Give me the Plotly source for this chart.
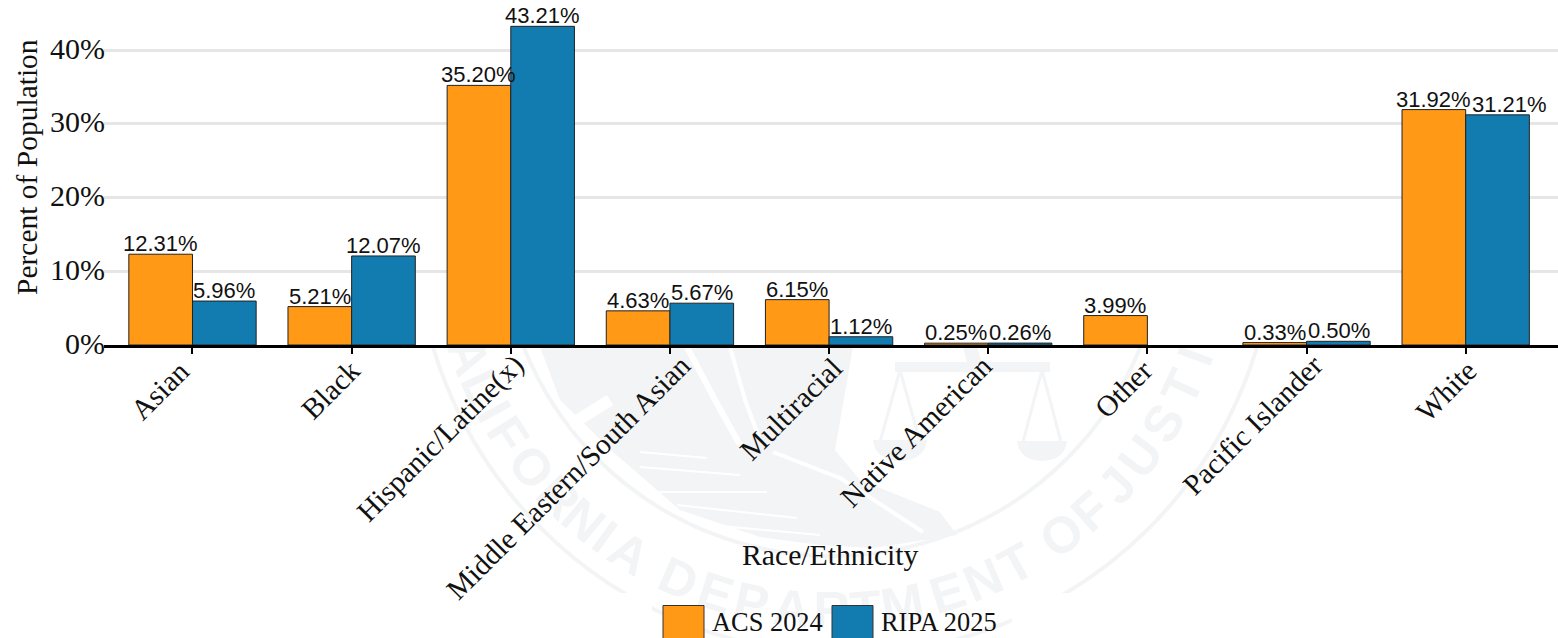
import base64
import plotly.graph_objects as go

categories = ["Asian", "Black", "Hispanic/Latine(x)", "Middle Eastern/South Asian", "Multiracial",
              "Native American", "Other", "Pacific Islander", "White"]
acs_2024 = [12.31, 5.21, 35.20, 4.63, 6.15, 0.25, 3.99, 0.33, 31.92]
ripa_2025 = [5.96, 12.07, 43.21, 5.67, 1.12, 0.26, None, 0.50, 31.21]
y_ticks = [0, 10, 20, 30, 40]
series_names = ["ACS 2024", "RIPA 2025"]
ORANGE, BLUE = "#ff9916", "#127bb0"
# label end offset from the tick (px) and top of label (page px), as in the picture
label_dx = [6, 17, 22, 30, 22, 13, 14, 25, 20]
label_top = [351, 351, 346, 346, 349, 346, 351, 346, 351]
# the reference moves the last value label sideways, clear of its neighbour
ripa_label_nudge = [0, 0, 0, 0, 0, 0, 0, 0, 12]
acs_label_nudge = [0, 0, 0, 0, 0, 0, 0, 0, 0]

W, H = 1558, 638
L, R, T, B = 104, 1558, 8, 345      # plot rectangle in page pixels
X_RANGE = [-0.556, 8.58]
SERIF = "Liberation Serif, Times New Roman, serif"
SANS = "Liberation Sans, Arial, sans-serif"
WM = "#f3f4f5"

def px(x): return (x - L) / (R - L)
def py(y): return (B - y) / (B - T)

# faint seal behind the axis area
cx, cy, r1, rt = 832, 224, 332, 385
def letter(ch, ang):
    return (f'<text transform="rotate({-ang} {cx} {cy})" x="{cx}" y="{cy + rt + 19}" text-anchor="middle" '
            f'font-family="Liberation Sans" font-weight="700" font-size="51" fill="{WM}">{ch}</text>')
word = [("C", -76), ("A", -70), ("L", -65), ("I", -61), ("F", -57), ("O", -51), ("R", -45), ("N", -40), ("I", -36),
        ("A", -31.6), ("D", -23.4), ("E", -17.5), ("P", -12), ("A", -6), ("R", 0), ("T", 5), ("M", 10.5), ("E", 17.4),
        ("N", 23), ("T", 28.5), ("O", 36.5), ("F", 42), ("J", 47.5), ("U", 53), ("S", 59), ("T", 65), ("I", 70), ("C", 75)]
svg = f'''<svg xmlns="http://www.w3.org/2000/svg" width="{W}" height="{H}" viewBox="0 0 {W} {H}">
<defs><clipPath id="c"><path d="M0 347H{W}V593H1012V{H}H652V593H0Z"/></clipPath></defs>
<g clip-path="url(#c)">
<circle cx="{cx}" cy="{cy}" r="{r1}" fill="none" stroke="{WM}" stroke-width="4"/>
<circle cx="845" cy="{cy}" r="430" fill="none" stroke="{WM}" stroke-width="4"/>
{"".join(letter(c, a) for c, a in word)}
<path d="M540 347 L560 400 L613 452 L680 510 L760 537 L820 545 L873 548 L957 535 L940 512 L860 480 L835 450 L853 347Z" fill="{WM}"/>
<g stroke="#fff" stroke-width="2" fill="none">
<path d="M640 452L707 458M640 467L740 475M657 492L767 492M677 505L797 518M710 525L820 535"/>
<path d="M773 452L840 478L923 532" stroke-width="4"/>
<path d="M687 347L715 400L740 445" stroke-width="6"/>
<path d="M730 347L745 400L760 440" stroke-width="4"/>
<path d="M610 400L570 425" stroke-width="12"/>
</g>
<path d="M895 367H1050" stroke="{WM}" stroke-width="10"/>
<path d="M970 347L975 365" stroke="{WM}" stroke-width="14"/>
<path d="M900 370L880 442M900 370L920 442M1042 370L1023 442M1042 370L1061 442" stroke="{WM}" stroke-width="3" fill="none"/>
<path d="M873 440H927Q925 460 900 461Q875 460 873 440Z M1017 441H1067Q1065 460 1042 461Q1019 460 1017 441Z" fill="{WM}"/>
</g></svg>'''
seal = "data:image/svg+xml;base64," + base64.b64encode(svg.encode()).decode()

fig = go.Figure()
for name, vals, col in zip(series_names, (acs_2024, ripa_2025), (ORANGE, BLUE)):
    fig.add_bar(name=name, x=categories, y=vals, cliponaxis=False,
                marker=dict(color=col, line=dict(color="#222", width=1)), showlegend=False)

ann = []
# data labels
for vals, shift, nudge in ((acs_2024, -32, acs_label_nudge), (ripa_2025, 32, ripa_label_nudge)):
    for c, v, n in zip(categories, vals, nudge):
        if v is not None:
            ann.append(dict(text=f"{v:.2f}%", x=c, y=v, xref="x", yref="y", xshift=shift + n, yshift=-4,
                            yanchor="bottom", xanchor="center", showarrow=False,
                            font=dict(family=SANS, size=22, color="#111")))
# category labels
for c, dx, top in zip(categories, label_dx, label_top):
    ann.append(dict(text=c, x=c, xref="x", y=py(top), yref="paper", xshift=dx, xanchor="right", yanchor="top",
                    textangle=-45, showarrow=False, font=dict(family=SERIF, size=29.3, color="#111")))
# axis titles
ann.append(dict(text="Race/Ethnicity", xref="paper", yref="paper", x=px(830), y=py(555), xanchor="center",
                yanchor="middle", showarrow=False, font=dict(family=SERIF, size=29.7, color="#111")))
ann.append(dict(text="Percent of Population", xref="paper", yref="paper", x=px(27), y=py(167), xanchor="center",
                yanchor="middle", textangle=-90, showarrow=False, font=dict(family=SERIF, size=29.5, color="#111")))
# legend
shapes = []
for name, x0, col in zip(series_names, (663, 832), (ORANGE, BLUE)):
    shapes.append(dict(type="rect", xref="paper", yref="paper", x0=px(x0), x1=px(x0 + 41), y0=py(640), y1=py(605.5),
                       fillcolor=col, line=dict(color="#333", width=1)))
    ann.append(dict(text=name, xref="paper", yref="paper", x=px(x0 + 47), y=py(622), xanchor="left", yanchor="middle",
                    showarrow=False, font=dict(family=SERIF, size=26.4, color="#111")))

fig.update_layout(
    width=W, height=H, autosize=False,
    margin=dict(l=L, r=W - R, t=T, b=H - B),
    barmode="group", bargap=0.2, bargroupgap=0, paper_bgcolor="white", plot_bgcolor="white",
    showlegend=False, shapes=shapes, annotations=ann,
    images=[dict(source=seal, xref="paper", yref="paper", x=px(0), y=py(0), sizex=W / (R - L),
                 sizey=H / (B - T), xanchor="left", yanchor="top", layer="below", sizing="stretch")],
    font=dict(family=SERIF, color="#111"),
    xaxis=dict(range=X_RANGE, showticklabels=False,
               ticks="outside", ticklen=6, tickwidth=2, tickcolor="black", showgrid=False,
               showline=True, linecolor="black", linewidth=3, zeroline=False),
    yaxis=dict(range=[0, (B - T) / 7.375], tickvals=y_ticks, ticktext=[f"{t}%" for t in y_ticks],
               tickfont=dict(family=SERIF, size=30), gridcolor="#e6e6e6", gridwidth=3,
               zeroline=False, showline=False, ticks="", ticklabelstandoff=-2, ticklabelshift=-2),
)
fig.write_html("out.html", config=dict(displayModeBar=False),
               post_script="document.body.style.margin='0';document.documentElement.style.overflow='hidden';")
